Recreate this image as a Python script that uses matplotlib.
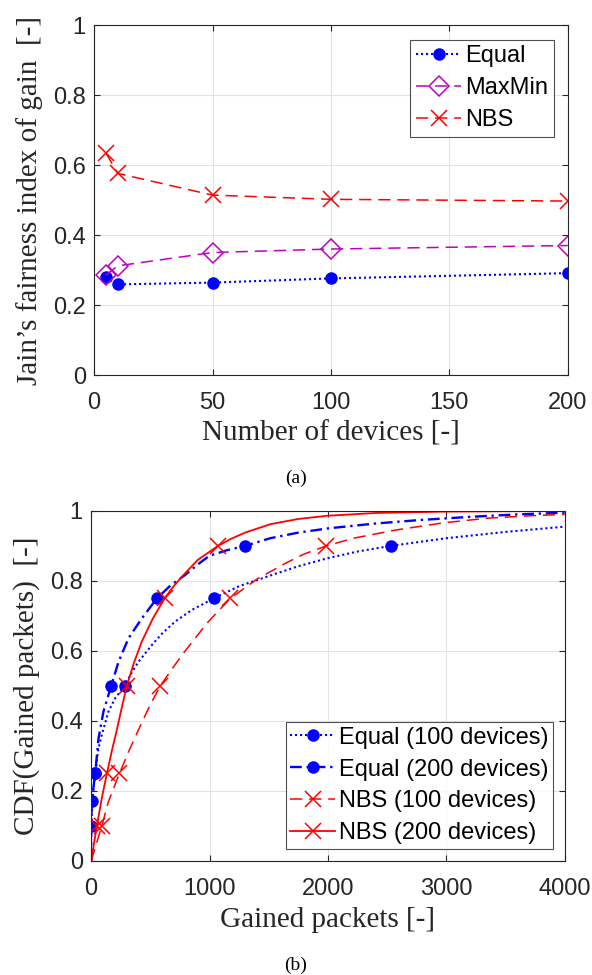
import matplotlib
matplotlib.use("Agg")
import matplotlib.pyplot as plt
from matplotlib.lines import Line2D

# === Data: (a) Jain's fairness index ===
devices = [5, 10, 50, 100, 200]
fair_equal = [0.280, 0.260, 0.265, 0.277, 0.292]
fair_maxmin = [0.287, 0.313, 0.351, 0.361, 0.371]
fair_nbs = [0.635, 0.577, 0.515, 0.503, 0.498]

# === Data: (b) CDF of gained packets (curves) ===
eq100_x = [0, 0, 15, 34, 60, 90, 146, 203, 282, 340, 400, 513, 600, 710, 850, 1034, 1250, 1510, 1750,
           2000, 2250, 2530, 3000, 3500, 4000]
eq100_y = [0, 0.10, 0.19, 0.25, 0.32, 0.36, 0.427, 0.465, 0.50, 0.537, 0.569, 0.617, 0.65, 0.684, 0.717,
           0.75, 0.785, 0.815, 0.842, 0.865, 0.884, 0.90, 0.922, 0.94, 0.955]
eq200_x = [0, 0, 5, 34, 62, 104, 169, 231, 315, 428, 555, 670, 794, 900, 1000, 1150, 1301, 1513, 1750,
           2000, 2400, 2780, 3200, 3600, 4000]
eq200_y = [0, 0.10, 0.17, 0.25, 0.35, 0.427, 0.50, 0.569, 0.636, 0.693, 0.75, 0.787, 0.817, 0.847, 0.872,
           0.888, 0.90, 0.922, 0.938, 0.95, 0.964, 0.974, 0.983, 0.99, 0.995]
nbs100_x = [0, 45, 90, 146, 239, 320, 400, 490, 583, 690, 794, 980, 1175, 1400, 1639, 1800, 1986, 2216,
            2583, 2977, 3343, 3700, 4000]
nbs100_y = [0, 0.05, 0.10, 0.17, 0.25, 0.315, 0.375, 0.44, 0.50, 0.552, 0.60, 0.68, 0.75, 0.805, 0.85,
            0.877, 0.90, 0.922, 0.946, 0.966, 0.979, 0.986, 0.99]
nbs200_x = [0, 48, 90, 133, 175, 217, 260, 301, 360, 428, 520, 620, 690, 766, 900, 1071, 1180, 1300,
            1513, 1750, 1992, 2400, 2980, 3500, 4000]
nbs200_y = [0, 0.10, 0.18, 0.25, 0.315, 0.375, 0.44, 0.50, 0.565, 0.627, 0.692, 0.75, 0.782, 0.812, 0.86,
            0.90, 0.92, 0.938, 0.962, 0.977, 0.986, 0.994, 0.998, 0.999, 1.0]

# markers at the quantiles
eq100_mx = [0, 34, 282, 1034, 2532]
eq100_my = [0.10, 0.25, 0.50, 0.75, 0.90]
eq200_mx = [5, 34, 169, 555, 1301]
eq200_my = [0.17, 0.25, 0.50, 0.75, 0.90]
nbs100_mx = [90, 239, 583, 1175, 1986]
nbs100_my = [0.10, 0.25, 0.50, 0.75, 0.90]
nbs200_mx = [48, 133, 301, 620, 1071]
nbs200_my = [0.10, 0.25, 0.50, 0.75, 0.90]

SANS = ["Liberation Sans", "DejaVu Sans"]
SERIF = ["Liberation Serif", "DejaVu Serif"]
TXT = "#262626"
BLUE = "#0000FF"
MAG = "#BF00BF"
RED = "#FF0000"

DOT = (0, (1, 1.4))
DASH = (0, (8, 4.5))
DASHDOT = (0, (5, 2, 1, 2))

plt.rcParams["font.family"] = SANS
plt.rcParams["lines.dash_capstyle"] = "butt"

fig = plt.figure(figsize=(5.92, 9.75), dpi=100)
ax1 = fig.add_axes([0.159, 0.615, 0.800, 0.359])
ax2 = fig.add_axes([0.154, 0.117, 0.800, 0.359])


def style_axes(ax):
    for s in ax.spines.values():
        s.set_color(TXT)
        s.set_linewidth(0.8)
    ax.tick_params(direction="in", length=4, width=0.8, colors=TXT,
                   labelsize=17, top=True, right=True, pad=6)
    ax.tick_params(axis="x", pad=12)
    ax.grid(True, color="#e3e3e3", linewidth=0.8)
    ax.set_axisbelow(True)


# === (a) ===
style_axes(ax1)
ax1.plot(devices, fair_equal, linestyle=DOT, color=BLUE, lw=1.5,
         marker="o", ms=8, mfc=BLUE, mec=BLUE, label="Equal")
ax1.plot(devices, fair_maxmin, linestyle=DASH, color=MAG, lw=1.1,
         marker="D", ms=10, mfc="none", mec=MAG, mew=1.1, label="MaxMin")
ax1.plot(devices, fair_nbs, linestyle=DASH, color=RED, lw=1.1,
         marker="x", ms=12, mec=RED, mew=1.1, label="NBS")
ax1.set_xlim(0, 200)
ax1.set_ylim(0, 1)
ax1.set_xticks([0, 50, 100, 150, 200])
ax1.set_yticks([0, 0.2, 0.4, 0.6, 0.8, 1])
ax1.set_yticklabels(["0", "0.2", "0.4", "0.6", "0.8", "1"])
ax1.set_xlabel("Number of devices [-]", family=SERIF, fontsize=21, color=TXT, labelpad=5)
ax1.set_ylabel("Jain’s fairness index of gain  [-]", family=SERIF, fontsize=21,
               color=TXT, labelpad=7)
leg1 = ax1.legend(loc="upper right", fontsize=17, frameon=True, fancybox=False,
                  edgecolor=TXT, handlelength=1.9, handletextpad=0.15,
                  borderpad=0.25, labelspacing=0.42, borderaxespad=0.6)
leg1.get_frame().set_linewidth(0.8)

# === (b) ===
style_axes(ax2)
ax2.plot(eq100_x, eq100_y, linestyle=DOT, color=BLUE, lw=1.5)
ax2.plot(eq100_mx, eq100_my, linestyle="none", marker="o", ms=8, color=BLUE)
ax2.plot(eq200_x, eq200_y, linestyle=DASHDOT, color=BLUE, lw=1.7)
ax2.plot(eq200_mx, eq200_my, linestyle="none", marker="o", ms=8, color=BLUE)
ax2.plot(nbs100_x, nbs100_y, linestyle=DASH, color=RED, lw=1.1)
ax2.plot(nbs100_mx, nbs100_my, linestyle="none", marker="x", ms=12, mew=1.1, color=RED)
ax2.plot(nbs200_x, nbs200_y, linestyle="-", color=RED, lw=1.3)
ax2.plot(nbs200_mx, nbs200_my, linestyle="none", marker="x", ms=12, mew=1.1, color=RED)
ax2.set_xlim(0, 4000)
ax2.set_ylim(0, 1)
ax2.set_xticks([0, 1000, 2000, 3000, 4000])
ax2.set_yticks([0, 0.2, 0.4, 0.6, 0.8, 1])
ax2.set_yticklabels(["0", "0.2", "0.4", "0.6", "0.8", "1"])
ax2.set_xlabel("Gained packets [-]", family=SERIF, fontsize=21, color=TXT, labelpad=5)
ax2.set_ylabel("CDF(Gained packets)  [-]", family=SERIF, fontsize=21, color=TXT, labelpad=7)

handles = [
    Line2D([], [], linestyle=DOT, color=BLUE, lw=1.5, marker="o", ms=8),
    Line2D([], [], linestyle=DASHDOT, color=BLUE, lw=1.7, marker="o", ms=8),
    Line2D([], [], linestyle=DASH, color=RED, lw=1.1, marker="x", ms=12, mew=1.1),
    Line2D([], [], linestyle="-", color=RED, lw=1.3, marker="x", ms=12, mew=1.1),
]
labels = ["Equal (100 devices)", "Equal (200 devices)", "NBS (100 devices)", "NBS (200 devices)"]
leg2 = ax2.legend(handles, labels, loc="lower right", fontsize=17, frameon=True,
                  fancybox=False, edgecolor=TXT, handlelength=1.9, handletextpad=0.15,
                  borderpad=0.2, labelspacing=0.42, borderaxespad=0.5)
leg2.get_frame().set_linewidth(0.8)

fig.text(0.5, 1 - 478 / 975, "(a)", ha="center", va="center", family=SERIF, fontsize=14)
fig.text(0.5, 1 - 965 / 975, "(b)", ha="center", va="center", family=SERIF, fontsize=14)

fig.savefig("out.png", dpi=100, facecolor="white")
